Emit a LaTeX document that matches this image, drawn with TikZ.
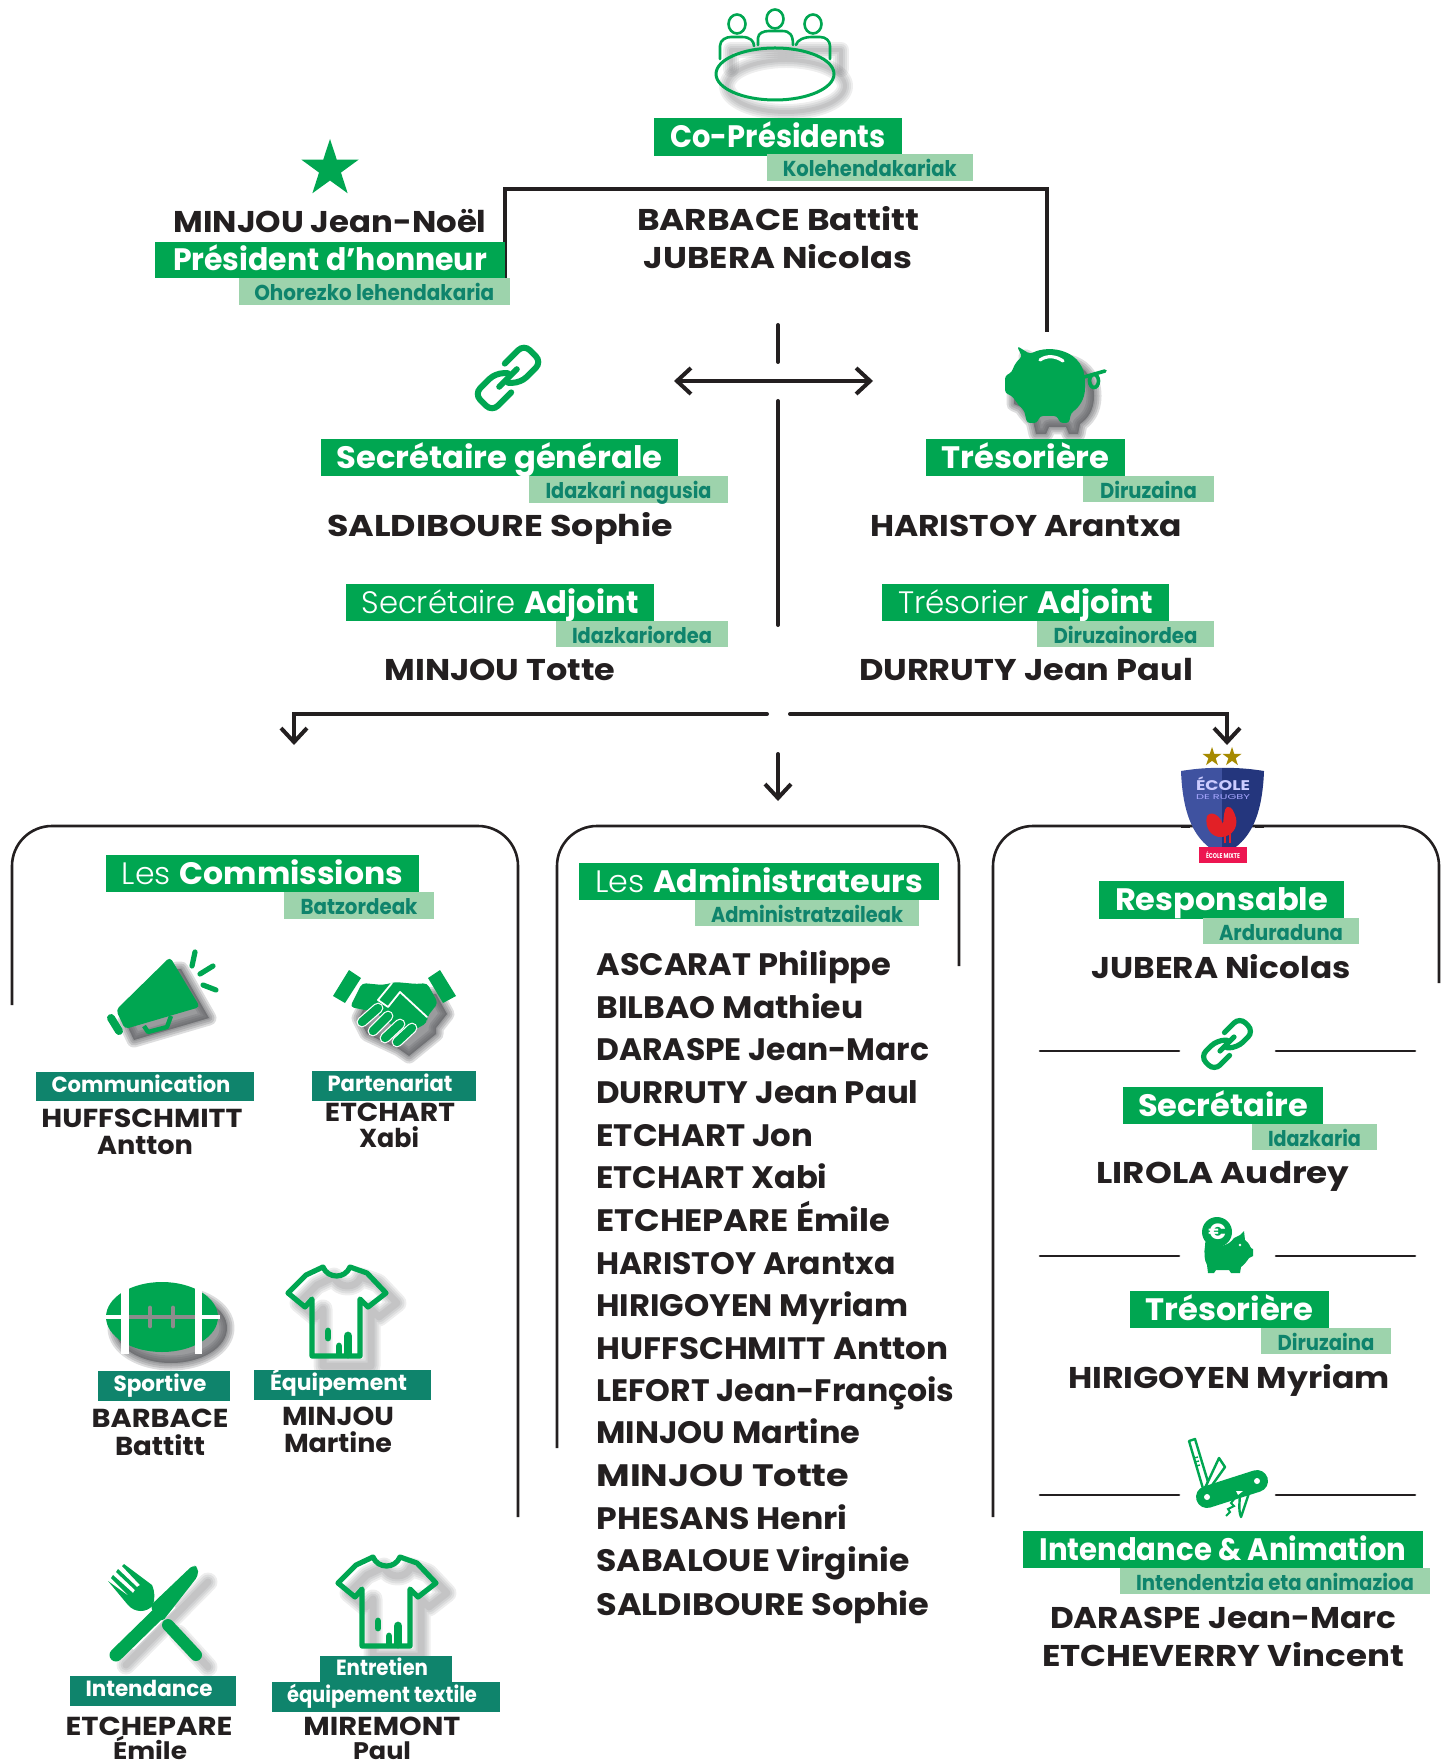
\documentclass[tikz,border=0pt]{standalone}
\usepackage{graphicx}
\usepackage{fontspec}
\setmainfont{Poppins}
\newfontfamily\lightfam{Poppins Light}[BoldFont={Poppins Light}]
\usetikzlibrary{arrows.meta,shapes.geometric}
\definecolor{gr}{HTML}{00A651}
\definecolor{pale}{HTML}{9DD3AC}
\definecolor{teal}{HTML}{0F846C}
\definecolor{ink}{HTML}{231F20}
\definecolor{gold}{HTML}{A68A00}
\definecolor{shadowc}{HTML}{55565A}
\definecolor{shieldl}{RGB}{63,82,160}
\definecolor{shieldr}{RGB}{36,54,125}
\definecolor{mixtered}{RGB}{237,22,81}
\definecolor{rooster}{RGB}{226,32,38}
\newdimen\pxu \pxu=.5pt
\newcommand\tw[2]{\resizebox{#1\pxu}{\height}{#2}}
\newcommand\bx[7]{\node[#1,minimum width={(#5-#3)*.5pt},minimum height={(#6-#4)*.5pt}] (#2) at ({(#3+#5)/2},{(#4+#6)/2}) {#7};}
\newcommand\softfill[1]{\begin{scope}[shift={(9,11)}]\foreach \w in {15,11,7,3}{\fill[shadowc,opacity=.2,line join=round,draw=shadowc,draw opacity=.2,line width=\w*.5pt] #1;}\end{scope}}
\newcommand\softline[2][6]{\begin{scope}[shift={(11,10)}]\foreach \w in {14,10,6,2}{\draw[shadowc,opacity=.1,line join=round,line cap=round,line width=(#1+\w)*.5pt] #2;}\end{scope}}
\newcommand\chainicon[4]{\begin{scope}[shift={(#1,#2)},rotate=45,scale=#3]
 \draw[gr,line width=#4,rounded corners=4pt,line cap=round] (7,-11) -- (31,-11) -- (31,11) -- (5,11) -- (-3,3);
 \draw[gr,line width=#4,rounded corners=4pt,line cap=round] (-7,11) -- (-31,11) -- (-31,-11) -- (-5,-11) -- (3,-3);
 \draw[gr,line width=#4,line cap=round] (-11,0) -- (11,0);
\end{scope}}
\newcommand\shirticon[2]{%
 \begin{scope}[shift={(#1,#2)}]
 \softline[5]{(323,1267) .. controls (328,1279) and (345,1279) .. (350,1267) -- (367,1273) -- (386,1293) -- (368,1307) -- (360,1299) -- (360,1356) -- (312,1356) -- (312,1299) -- (305,1307) -- (288,1293) -- (306,1275) -- cycle}
 \draw[gr,line width=2.6pt,line join=round] (323,1267) .. controls (328,1279) and (345,1279) .. (350,1267) -- (367,1273) -- (386,1293) -- (368,1307) -- (360,1299) -- (360,1356) -- (312,1356) -- (312,1299) -- (305,1307) -- (288,1293) -- (306,1275) -- cycle;
 \draw[gr,line width=3.4pt,line cap=round] (328,1331) -- (328,1338);
 \draw[gr,line width=4.4pt,line cap=round] (348,1336) -- (348,1354);
 \draw[gr,line width=3.4pt,line cap=round] (339,1346) -- (339,1354);
 \end{scope}}
\tikzset{
 conn/.style={ink,line width=2pt,line cap=round,>={Straight Barb[length=7pt,width=13pt,line width=2pt]}},
 panel/.style={ink,line width=1.3pt,rounded corners=20pt},
 rule/.style={ink,line width=1.3pt,line cap=round},
 gbox/.style={fill=gr,text=white,inner sep=0pt,font=\fontsize{15.5}{15.5}\selectfont\bfseries,text height=10.85pt,text depth=0pt},
 pbox/.style={fill=pale,text=teal,inner sep=0pt,font=\fontsize{10.8}{10.8}\selectfont\bfseries,text height=9.4pt,text depth=0pt},
 tbox/.style={fill=teal,text=white,inner sep=0pt,font=\fontsize{11}{11}\selectfont\bfseries,text height=7.7pt,text depth=2.2pt,execute at end node={\hspace{4pt}}},
 nm/.style={text=ink,inner sep=0pt,font=\fontsize{15}{15}\selectfont\bfseries,text height=10.5pt,text depth=0pt},
 nmsmall/.style={text=ink,inner sep=0pt,font=\fontsize{13}{13}\selectfont\bfseries,text height=9.1pt,text depth=0pt},
 lst/.style={nm,anchor=west,font=\fontsize{15.5}{15.5}\selectfont\bfseries,text height=10.85pt},
}
\begin{document}
\begin{tikzpicture}[x=.5pt,y=-.5pt]
\useasboundingbox (0,0) rectangle (1447,1764);
% connector anchor points
\coordinate (brL) at (505,280);
\coordinate (brLt) at (505,189);
\coordinate (brRt) at (1047,189);
\coordinate (brR) at (1047,332);
\coordinate (vA) at (778,325);
\coordinate (vB) at (778,362);
\coordinate (vC) at (778,401);
\coordinate (vD) at (778,625);
\coordinate (hL) at (674,381);
\coordinate (hR) at (873,381);
\coordinate (aL0) at (767,714);
\coordinate (aL1) at (294,714);
\coordinate (aL2) at (294,745);
\coordinate (aR0) at (790,714);
\coordinate (aR1) at (1227,714);
\coordinate (aR2) at (1227,745);
\coordinate (aM0) at (778,754);
\coordinate (aM1) at (778,801);
% top connectors
\draw[conn,line cap=butt,line join=miter] (brL) -- (brLt) -- (brRt) -- (brR);
\draw[conn] (vA) -- (vB);
\draw[conn] (vC) -- (vD);
\draw[conn,<->] (hL) -- (hR);
\draw[conn,->] (aL0) -- (aL1) -- (aL2);
\draw[conn,->] (aR0) -- (aR1) -- (aR2);
\draw[conn,->] (aM0) -- (aM1);
% panels
\coordinate (pa1) at (12,1005); \coordinate (pa2) at (12,826); \coordinate (pa3) at (518,826); \coordinate (pa4) at (518,1517);
\coordinate (pb1) at (557,1448); \coordinate (pb2) at (557,826); \coordinate (pb3) at (959,826); \coordinate (pb4) at (959,966);
\coordinate (pc1) at (993,1517); \coordinate (pc2) at (993,826); \coordinate (pc3) at (1439,826); \coordinate (pc4) at (1439,983);
\draw[panel] (pa1) -- (pa2) -- (pa3) -- (pa4);
\draw[panel] (pb1) -- (pb2) -- (pb3) -- (pb4);
\draw[panel] (pc1) -- (pc2) -- (pc3) -- (pc4);
% table icon
\softline[2]{(775,76) ellipse [x radius=59,y radius=26]}
\softline[2]{(720,59) -- (720,40) -- (830,40) -- (830,59)}
\draw[gr,line width=1.5pt] (775,74) ellipse [x radius=59,y radius=26];
\foreach \hx/\hy in {737/24,775/19,813/24}{\draw[gr,line width=1.3pt] (\hx,\hy) ellipse [x radius=8.5,y radius=9.5];}
\draw[gr,line width=1.3pt,line cap=round] (720,59) -- (720,46) .. controls (720,40) and (726,37) .. (731,37) -- (742,37) .. controls (750,37) and (754,41) .. (754,46);
\draw[gr,line width=1.3pt,line cap=round] (758,45) -- (758,38) .. controls (758,33) and (764,31) .. (769,31) -- (782,31) .. controls (790,31) and (793,35) .. (793,45);
\draw[gr,line width=1.3pt,line cap=round] (796,45) .. controls (797,40) and (804,37) .. (812,37) -- (820,37) .. controls (826,37) and (830,41) .. (830,46) -- (830,59);
% co-presidents
\bx{gbox}{copres}{654}{118}{902}{156}{\tw{215}{Co-Présidents}}
\bx{pbox}{copresb}{766.5}{154}{973}{181}{\tw{174}{Kolehendakariak}}
\node[nm] (barbace) at (778,220) {\tw{282}{BARBACE Battitt}};
\node[nm] (jubera) at (778,258) {\tw{268}{JUBERA Nicolas}};
% president d'honneur
\node[star,star points=5,star point ratio=2.6,fill=gr,inner sep=0pt,minimum size=30pt] (hstar) at (330,169) {};
\node[nm] (minjouj) at (330,222) {\tw{313}{MINJOU Jean-Noël}};
\bx{gbox}{phon}{155}{242}{505}{278}{\tw{314}{Président d’honneur}}
\bx{pbox}{phonb}{238.5}{278}{510}{305}{\tw{240}{Ohorezko lehendakaria}}
% secretaire
\chainicon{508}{378}{1.13}{3pt}
\bx{gbox}{sec}{321}{439}{678}{476}{\tw{326}{Secrétaire générale}}
\bx{pbox}{secb}{529}{476}{728}{503}{\tw{166}{Idazkari nagusia}}
\node[nm] (sald) at (500,526) {\tw{346}{SALDIBOURE Sophie}};
\bx{gbox}{seca}{346}{584}{654}{621}{\tw{277}{{\lightfam Secrétaire }Adjoint}}
\bx{pbox}{secab}{556}{621}{728}{647}{\tw{140}{Idazkariordea}}
\node[nm] (minjt) at (500,670) {\tw{231}{MINJOU Totte}};
% piggy
\softfill{(1017,346) -- (1030,354) .. controls (1050,344) and (1085,350) .. (1085,385) .. controls (1085,400) and (1078,408) .. (1071,413) -- (1069,423) -- (1060,423) -- (1057,416) -- (1040,416) -- (1037,423) -- (1027,423) -- (1024,410) .. controls (1018,405) and (1015,400) .. (1012,396) -- (1005,393) -- (1005,376) -- (1012,372) .. controls (1014,365) and (1018,360) .. (1022,357) -- cycle}
\fill[gr,rounded corners=1.5pt] (1017,346) -- (1030,354) .. controls (1050,344) and (1085,350) .. (1085,385) .. controls (1085,400) and (1078,408) .. (1071,413) -- (1069,423) -- (1060,423) -- (1057,416) -- (1040,416) -- (1037,423) -- (1027,423) -- (1024,410) .. controls (1018,405) and (1015,400) .. (1012,396) -- (1005,393) -- (1005,376) -- (1012,372) .. controls (1014,365) and (1018,360) .. (1022,357) -- cycle;
\draw[white,line width=1.6pt,line cap=round] (1040,360) .. controls (1047,355) and (1056,356) .. (1063,361);
\draw[gr,line width=1.8pt,line cap=round] (1084,377) -- (1105,371);
\draw[gr,line width=1.8pt] (1094,381) ellipse [x radius=4.5,y radius=6.5];
% tresoriere
\bx{gbox}{tre}{926}{439}{1125}{476}{\tw{168}{Trésorière}}
\bx{pbox}{treb}{1083}{476}{1214}{502}{\tw{97}{Diruzaina}}
\node[nm] (hari) at (1026,526) {\tw{312}{HARISTOY Arantxa}};
\bx{gbox}{trea}{882}{584}{1169}{621}{\tw{255}{{\lightfam Trésorier }Adjoint}}
\bx{pbox}{treab}{1037}{621}{1214}{647}{\tw{144}{Diruzainordea}}
\node[nm] (durr) at (1026,670) {\tw{334}{DURRUTY Jean Paul}};
% commissions
\bx{gbox}{com}{106}{855}{419}{892}{\tw{281}{{\lightfam Les }Commissions}}
\bx{pbox}{comb}{284}{892}{434}{919}{\tw{117}{Batzordeak}}
% megaphone
\softfill{(116,1010) -- (168,958) -- (172,958) -- (200,1007) -- (125,1029) -- cycle}
\fill[gr,rounded corners=2pt] (116,1010) -- (170,957) -- (200,1007) -- (125,1029) -- cycle;
\draw[gr,line width=4pt,line cap=round] (111,1018) -- (119,1031);
\draw[gr,line width=2.2pt,line join=round] (144,1026) -- (148,1032) -- (167,1027) -- (171,1016);
\draw[gr,line width=2.6pt,line cap=round] (195,952) -- (192,966);
\draw[gr,line width=2.6pt,line cap=round] (213,966) -- (200,974);
\draw[gr,line width=2.6pt,line cap=round] (203,985) -- (216,990);
% handshake
\softfill{(362,983) -- (383,985) -- (395,982) -- (417,984) -- (427,983) -- (438,1003) -- (427,1017) -- (427,1023) -- (400,1045) -- (390,1038) -- (358,1023) -- (350,1007) -- cycle}
\fill[gr] (349,970) -- (361,978) -- (345,1003) -- (333,996) -- cycle;
\fill[gr] (440,970) -- (456,996) -- (443,1003) -- (428,978) -- cycle;
\fill[gr,rounded corners=2pt] (362,983) -- (383,985) -- (395,982) -- (417,984) -- (427,983) -- (438,1003) -- (427,1017) -- (427,1023) -- (405,1035) -- (375,1012) -- (350,1007) -- cycle;
\foreach \fa/\fb/\fc/\fd in {362/1022/378/1008,373/1031/388/1016,385/1038/400/1024,397/1042/412/1028}{
 \draw[white,line width=5.4pt,line cap=round] (\fa,\fb) -- (\fc,\fd);
 \draw[gr,line width=4.2pt,line cap=round] (\fa,\fb) -- (\fc,\fd);}
\draw[white,line width=.9pt,line join=round,line cap=round] (427,1017) -- (400,992) -- (388,1007) -- (378,1000) -- (392,983);
% communication
\bx{tbox}{tcom}{36}{1072}{254}{1101}{\tw{179}{Communication}}
\node[nmsmall] (huff) at (142,1118) {\tw{201}{HUFFSCHMITT}};
\node[nmsmall] (antton) at (145,1145) {\tw{96}{Antton}};
\bx{tbox}{tpar}{312}{1071}{476}{1101}{\tw{125}{Partenariat}}
\node[nmsmall] (etch) at (390,1112) {\tw{130}{ETCHART}};
\node[nmsmall] (xabi) at (389,1138) {\tw{60}{Xabi}};
% football
\softfill{(162,1317) ellipse [x radius=56,y radius=35]}
\fill[gr] (162,1317) ellipse [x radius=56,y radius=35];
\fill[white] (121,1280) rectangle (129,1354);
\fill[white] (195,1280) rectangle (202,1354);
\fill[white] (104,1315) rectangle (122,1319);
\fill[white] (202,1315) rectangle (220,1319);
\fill[black!45] (129,1315) rectangle (195,1319);
\draw[black!45,line width=2.4pt,line cap=round] (150,1308) -- (150,1326);
\draw[black!45,line width=2.4pt,line cap=round] (173,1308) -- (173,1326);
% shirt 1
\shirticon{0}{0}
\bx{tbox}{tspo}{98}{1371}{230}{1401}{\tw{93}{Sportive}}
\node[nmsmall] (barb2) at (160,1418) {\tw{137}{BARBACE}};
\node[nmsmall] (batt2) at (160,1446) {\tw{90}{Battitt}};
\bx{tbox}{tequ}{254}{1370}{431}{1400}{\tw{137}{Équipement}}
\node[nmsmall] (minj2) at (338,1416) {\tw{112}{MINJOU}};
\node[nmsmall] (mart2) at (338,1443) {\tw{108}{Martine}};
% cutlery
\softline[5]{(115,1655) -- (197,1572)}
\softline[5]{(167,1624) -- (197,1657)}
\fill[gr] (108,1581) -- (128,1605) .. controls (135,1613) and (147,1613) .. (153,1605) .. controls (155,1598) and (155,1592) .. (152,1585) -- (124,1564) -- (122,1566) -- (140,1585) -- (137,1587) -- (118,1569) -- (116,1572) -- (135,1590) -- (133,1593) -- (113,1575) -- (111,1578) -- (130,1597) -- cycle;
\draw[gr,line width=6pt,line cap=round] (168,1625) -- (196,1655);
\draw[white,line width=8pt] (128,1644) -- (170,1602);
\draw[gr,line width=6.5pt,line cap=round] (116,1655) -- (160,1612);
\fill[gr,rounded corners=2pt] (150,1606) -- (193,1565) -- (198,1567) -- (198,1576) -- (162,1622) -- (155,1615) -- cycle;
\bx{tbox}{tint}{70}{1676}{236}{1706}{\tw{127}{Intendance}}
\node[nmsmall] (etchp) at (149,1726) {\tw{167}{ETCHEPARE}};
\node[nmsmall,font=\fontsize{12}{12}\selectfont\bfseries,text height=8.4pt] (emile) at (150,1751) {\tw{74}{Émile}};
% shirt 2
\shirticon{50}{290}
\bx{tbox}{tent}{320}{1656}{452}{1684}{\tw{92}{Entretien}}
\bx{tbox}{ttex}{272}{1682}{500}{1712}{\tw{190}{équipement textile}}
\node[nmsmall] (mire) at (382,1726) {\tw{157}{MIREMONT}};
\node[nmsmall,font=\fontsize{12}{12}\selectfont\bfseries,text height=8.4pt] (paul) at (382,1751) {\tw{58}{Paul}};
% administrateurs
\bx{gbox}{adm}{579}{863}{939}{900}{\tw{328}{{\lightfam Les }Administrateurs}}
\bx{pbox}{admb}{695}{900}{919}{926}{\tw{192}{Administratzaileak}}
\node[lst] (l1) at (596,965) {\tw{295}{ASCARAT Philippe}};
\node[lst] (l2) at (596,1008) {\tw{267}{BILBAO Mathieu}};
\node[lst] (l3) at (596,1050) {\tw{333}{DARASPE Jean-Marc}};
\node[lst] (l4) at (596,1093) {\tw{322}{DURRUTY Jean Paul}};
\node[lst] (l5) at (596,1136) {\tw{217}{ETCHART Jon}};
\node[lst] (l6) at (596,1178) {\tw{231}{ETCHART Xabi}};
\node[lst] (l7) at (596,1221) {\tw{294}{ETCHEPARE Émile}};
\node[lst] (l8) at (596,1264) {\tw{299}{HARISTOY Arantxa}};
\node[lst] (l9) at (596,1306) {\tw{312}{HIRIGOYEN Myriam}};
\node[lst] (l10) at (596,1349) {\tw{352}{HUFFSCHMITT Antton}};
\node[lst] (l11) at (596,1391) {\tw{358}{LEFORT Jean-François}};
\node[lst] (l12) at (596,1433) {\tw{264}{MINJOU Martine}};
\node[lst] (l13) at (596,1476) {\tw{253}{MINJOU Totte}};
\node[lst] (l14) at (596,1519) {\tw{251}{PHESANS Henri}};
\node[lst] (l15) at (596,1561) {\tw{313}{SABALOUE Virginie}};
\node[lst] (l16) at (596,1605) {\tw{333}{SALDIBOURE Sophie}};
% shield
\fill[white] (1181,828) rectangle (1264,856);
\fill[ink] (1181,824.5) rectangle (1190,827.5);
\fill[ink] (1255,824.5) rectangle (1264,827.5);
\node[star,star points=5,star point ratio=2.6,fill=gold,inner sep=0pt,minimum size=10pt] (st1) at (1212,757) {};
\node[star,star points=5,star point ratio=2.6,fill=gold,inner sep=0pt,minimum size=10pt] (st2) at (1232,757) {};
\fill[shieldl] (1181,771) .. controls (1205,767) and (1222,768) .. (1222,768) -- (1222,855) .. controls (1200,845) and (1183,825) .. (1181,771) -- cycle;
\fill[shieldr] (1264,771) .. controls (1240,767) and (1222,768) .. (1222,768) -- (1222,855) .. controls (1245,845) and (1262,825) .. (1264,771) -- cycle;
\node[text=white!80!blue,inner sep=0pt,font=\fontsize{7}{7}\selectfont\bfseries] (ecole) at (1223,784) {\tw{54}{ÉCOLE}};
\node[text=white!65!blue,inner sep=0pt,font=\fontsize{3.5}{3.5}\selectfont] (derugby) at (1223,797) {\tw{54}{DE RUGBY}};
\fill[rooster] (1207,816) .. controls (1212,810) and (1220,816) .. (1223,824) .. controls (1224,816) and (1224,809) .. (1227,807) .. controls (1232,806) and (1234,812) .. (1236,818) .. controls (1238,828) and (1232,836) .. (1222,837) .. controls (1212,838) and (1204,828) .. (1207,816) -- cycle;
\draw[rooster,line width=.6pt] (1225,835) -- (1225,843) (1230,834) -- (1230,843);
\node[fill=mixtered,text=white,inner sep=0pt,minimum width=24pt,minimum height=8pt,font=\fontsize{3.5}{3.5}\selectfont\bfseries] (mixte) at (1223,855) {\tw{34}{ÉCOLE MIXTE}};
% right panel
\bx{gbox}{resp}{1099}{881}{1344}{919}{\tw{213}{Responsable}}
\bx{pbox}{respb}{1203}{918}{1359}{944}{\tw{124}{Arduraduna}}
\node[nm] (jub2) at (1221,968) {\tw{259}{JUBERA Nicolas}};
\coordinate (r1a) at (1040,1051); \coordinate (r1b) at (1179,1051); \coordinate (r1c) at (1276,1051); \coordinate (r1d) at (1415,1051);
\draw[rule] (r1a) -- (r1b); \draw[rule] (r1c) -- (r1d);
\chainicon{1227}{1044}{.9}{2.6pt}
\bx{gbox}{sec2}{1123}{1087}{1323}{1124}{\tw{170}{Secrétaire}}
\bx{pbox}{sec2b}{1252}{1124}{1377}{1150}{\tw{93}{Idazkaria}}
\node[nm] (lirola) at (1223,1173) {\tw{253}{LIROLA Audrey}};
\coordinate (r2a) at (1040,1256); \coordinate (r2b) at (1179,1256); \coordinate (r2c) at (1276,1256); \coordinate (r2d) at (1415,1256);
\draw[rule] (r2a) -- (r2b); \draw[rule] (r2c) -- (r2d);
% small piggy with coin
\fill[gr] (1205,1246) .. controls (1205,1240) and (1206,1242) .. (1209,1241) .. controls (1215,1249) and (1228,1247) .. (1234,1238) -- (1240,1235) -- (1244,1231) -- (1245,1240) .. controls (1249,1243) and (1250,1246) .. (1251,1248) -- (1253,1249) -- (1253,1256) -- (1249,1258) .. controls (1247,1261) and (1244,1265) .. (1241,1267) -- (1240,1273) -- (1231,1273) -- (1229,1270) -- (1216,1270) -- (1214,1273) -- (1208,1273) -- (1207,1265) .. controls (1204,1260) and (1204,1252) .. (1205,1246) -- cycle;
\fill[white] (1240,1245) circle [radius=1.4];
\node[circle,fill=gr,text=white,inner sep=0pt,minimum size=15pt,font=\fontsize{11}{11}\selectfont\bfseries] (coin) at (1217,1232) {€};
\bx{gbox}{tre2}{1130}{1291}{1329}{1328}{\tw{168}{Trésorière}}
\bx{pbox}{tre2b}{1261}{1328}{1391}{1354}{\tw{97}{Diruzaina}}
\node[nm] (hiri) at (1229,1378) {\tw{322}{HIRIGOYEN Myriam}};
\coordinate (r3a) at (1040,1495); \coordinate (r3b) at (1179,1495); \coordinate (r3c) at (1276,1495); \coordinate (r3d) at (1415,1495);
\draw[rule] (r3a) -- (r3b); \draw[rule] (r3c) -- (r3d);
% swiss knife
\draw[gr,line width=1.2pt,line join=round,fill=white] (1189,1441) -- (1195,1439) -- (1208,1482) -- (1204,1492) -- cycle;
\draw[gr,line width=.7pt] (1194,1458) -- (1198,1457) (1195,1462) -- (1199,1461) (1196,1466) -- (1200,1465);
\draw[gr,line width=1.2pt,line join=round,fill=white] (1219,1458) -- (1225,1467) -- (1210,1488) -- (1204,1490) -- cycle;
\draw[gr,line width=1.2pt,line join=round,fill=white] (1250,1490) -- (1241,1517) .. controls (1238,1510) and (1240,1500) .. (1240,1492) -- cycle;
\draw[gr,line width=1pt] (1235,1498) -- (1231,1503) -- (1234,1506) -- (1228,1509) -- (1230,1512) -- (1226,1516);
\draw[gr,line width=11pt,line cap=round] (1207,1497) -- (1257,1481);
\fill[white] (1207,1497) circle [radius=3];
\fill[white] (1257,1481) circle [radius=3];
\fill[white] (1236,1491) -- (1238,1495) -- (1243,1491) -- cycle;
\bx{gbox}{intan}{1023}{1531}{1423}{1568}{\tw{367}{Intendance \& Animation}}
\bx{pbox}{intanb}{1120}{1568}{1430}{1594}{\tw{278}{Intendentzia eta animazioa}}
\node[nm] (dara) at (1223,1618) {\tw{346}{DARASPE Jean-Marc}};
\node[nm] (etchv) at (1223,1656) {\tw{362}{ETCHEVERRY Vincent}};
\end{tikzpicture}
\end{document}
